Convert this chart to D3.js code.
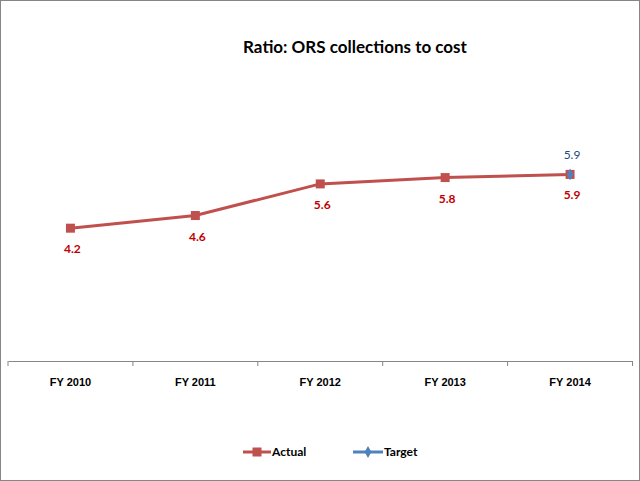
<!DOCTYPE html>
<html><head><meta charset="utf-8">
<script src="https://cdn.jsdelivr.net/npm/d3@7"></script>
<style>body{margin:0;background:#fff}svg{display:block;font-family:Lato,"Open Sans",sans-serif}</style>
</head><body>
<script>
const categories = ["FY 2010","FY 2011","FY 2012","FY 2013","FY 2014"];
const actual = [4.2, 4.6, 5.6, 5.8, 5.9];
const target = [null, null, null, null, 5.9];
const actualLabels = ["4.2","4.6","5.6","5.8","5.9"];
const targetLabels = [null,null,null,null,"5.9"];

const W = 640, H = 481;
const svg = d3.select("body").append("svg").attr("width", W).attr("height", H);
svg.append("rect").attr("x",0.5).attr("y",0.5).attr("width",W-1).attr("height",H-1)
  .attr("fill","#fff").attr("stroke","#868686");

svg.append("text").attr("x",355).attr("y",53).attr("text-anchor","middle")
  .attr("font-size",17).attr("font-weight","bold").attr("fill","#000")
  .text("Ratio: ORS collections to cost");

const x = d3.scaleBand().domain(categories).range([8, 632.5]);
const y = d3.scaleLinear().domain([0, 8]).range([361, 108]);

const xAxis = svg.append("g").attr("transform","translate(0,361)")
  .call(d3.axisBottom(x).tickSize(0).tickFormat(d=>d));
xAxis.select(".domain").attr("stroke","#868686");
xAxis.selectAll("text").attr("font-size",11).attr("font-weight","bold")
  .attr("fill","#000").attr("dy",0).attr("y",25);
const bounds = [8].concat(categories.map(c => x(c) + x.bandwidth()));
svg.append("g").selectAll("line").data(bounds).join("line")
  .attr("x1",d=>d).attr("x2",d=>d).attr("y1",361).attr("y2",366).attr("stroke","#868686");

const cx = d => x(d) + x.bandwidth()/2;
const line = d3.line().x((d,i)=>cx(categories[i])).y(d=>y(d));
svg.append("path").datum(actual).attr("d",line).attr("fill","none")
  .attr("stroke","#C0504D").attr("stroke-width",3);
svg.append("g").selectAll("rect").data(actual).join("rect")
  .attr("x",(d,i)=>cx(categories[i])-4.5).attr("y",d=>y(d)-4.5)
  .attr("width",9).attr("height",9).attr("fill","#C0504D");

svg.append("g").selectAll("path").data(target.map((v,i)=>({v,i})).filter(d=>d.v!=null)).join("path")
  .attr("d", d3.symbol(d3.symbolDiamond, 40))
  .attr("transform",d=>`translate(${cx(categories[d.i])},${y(d.v)})`)
  .attr("fill","#4F81BD");

svg.append("g").selectAll("text").data(actual).join("text")
  .attr("x",(d,i)=>cx(categories[i])+2).attr("y",d=>y(d)+25)
  .attr("text-anchor","middle").attr("font-size",12).attr("font-weight","bold")
  .attr("fill","#C00000").text((d,i)=>actualLabels[i]);
svg.append("g").selectAll("text").data(target.map((v,i)=>({v,i})).filter(d=>d.v!=null)).join("text")
  .attr("x",d=>cx(categories[d.i])+2).attr("y",d=>y(d.v)-15)
  .attr("text-anchor","middle").attr("font-size",12)
  .attr("fill","#1F497D").text(d=>targetLabels[d.i]);

// legend
const lg = svg.append("g");
lg.append("line").attr("x1",243).attr("x2",271).attr("y1",452).attr("y2",452).attr("stroke","#C0504D").attr("stroke-width",3);
lg.append("rect").attr("x",252.5).attr("y",447.5).attr("width",9).attr("height",9).attr("fill","#C0504D");
lg.append("text").attr("x",272).attr("y",456).attr("font-size",12).attr("font-weight","bold").attr("fill","#000").text("Actual");
lg.append("line").attr("x1",353).attr("x2",383).attr("y1",452).attr("y2",452).attr("stroke","#4F81BD").attr("stroke-width",3);
lg.append("path").attr("d",d3.symbol(d3.symbolDiamond,40)).attr("transform","translate(368,452)").attr("fill","#4F81BD");
lg.append("text").attr("x",384).attr("y",456).attr("font-size",12).attr("font-weight","bold").attr("fill","#000").text("Target");
</script>
</body></html>
